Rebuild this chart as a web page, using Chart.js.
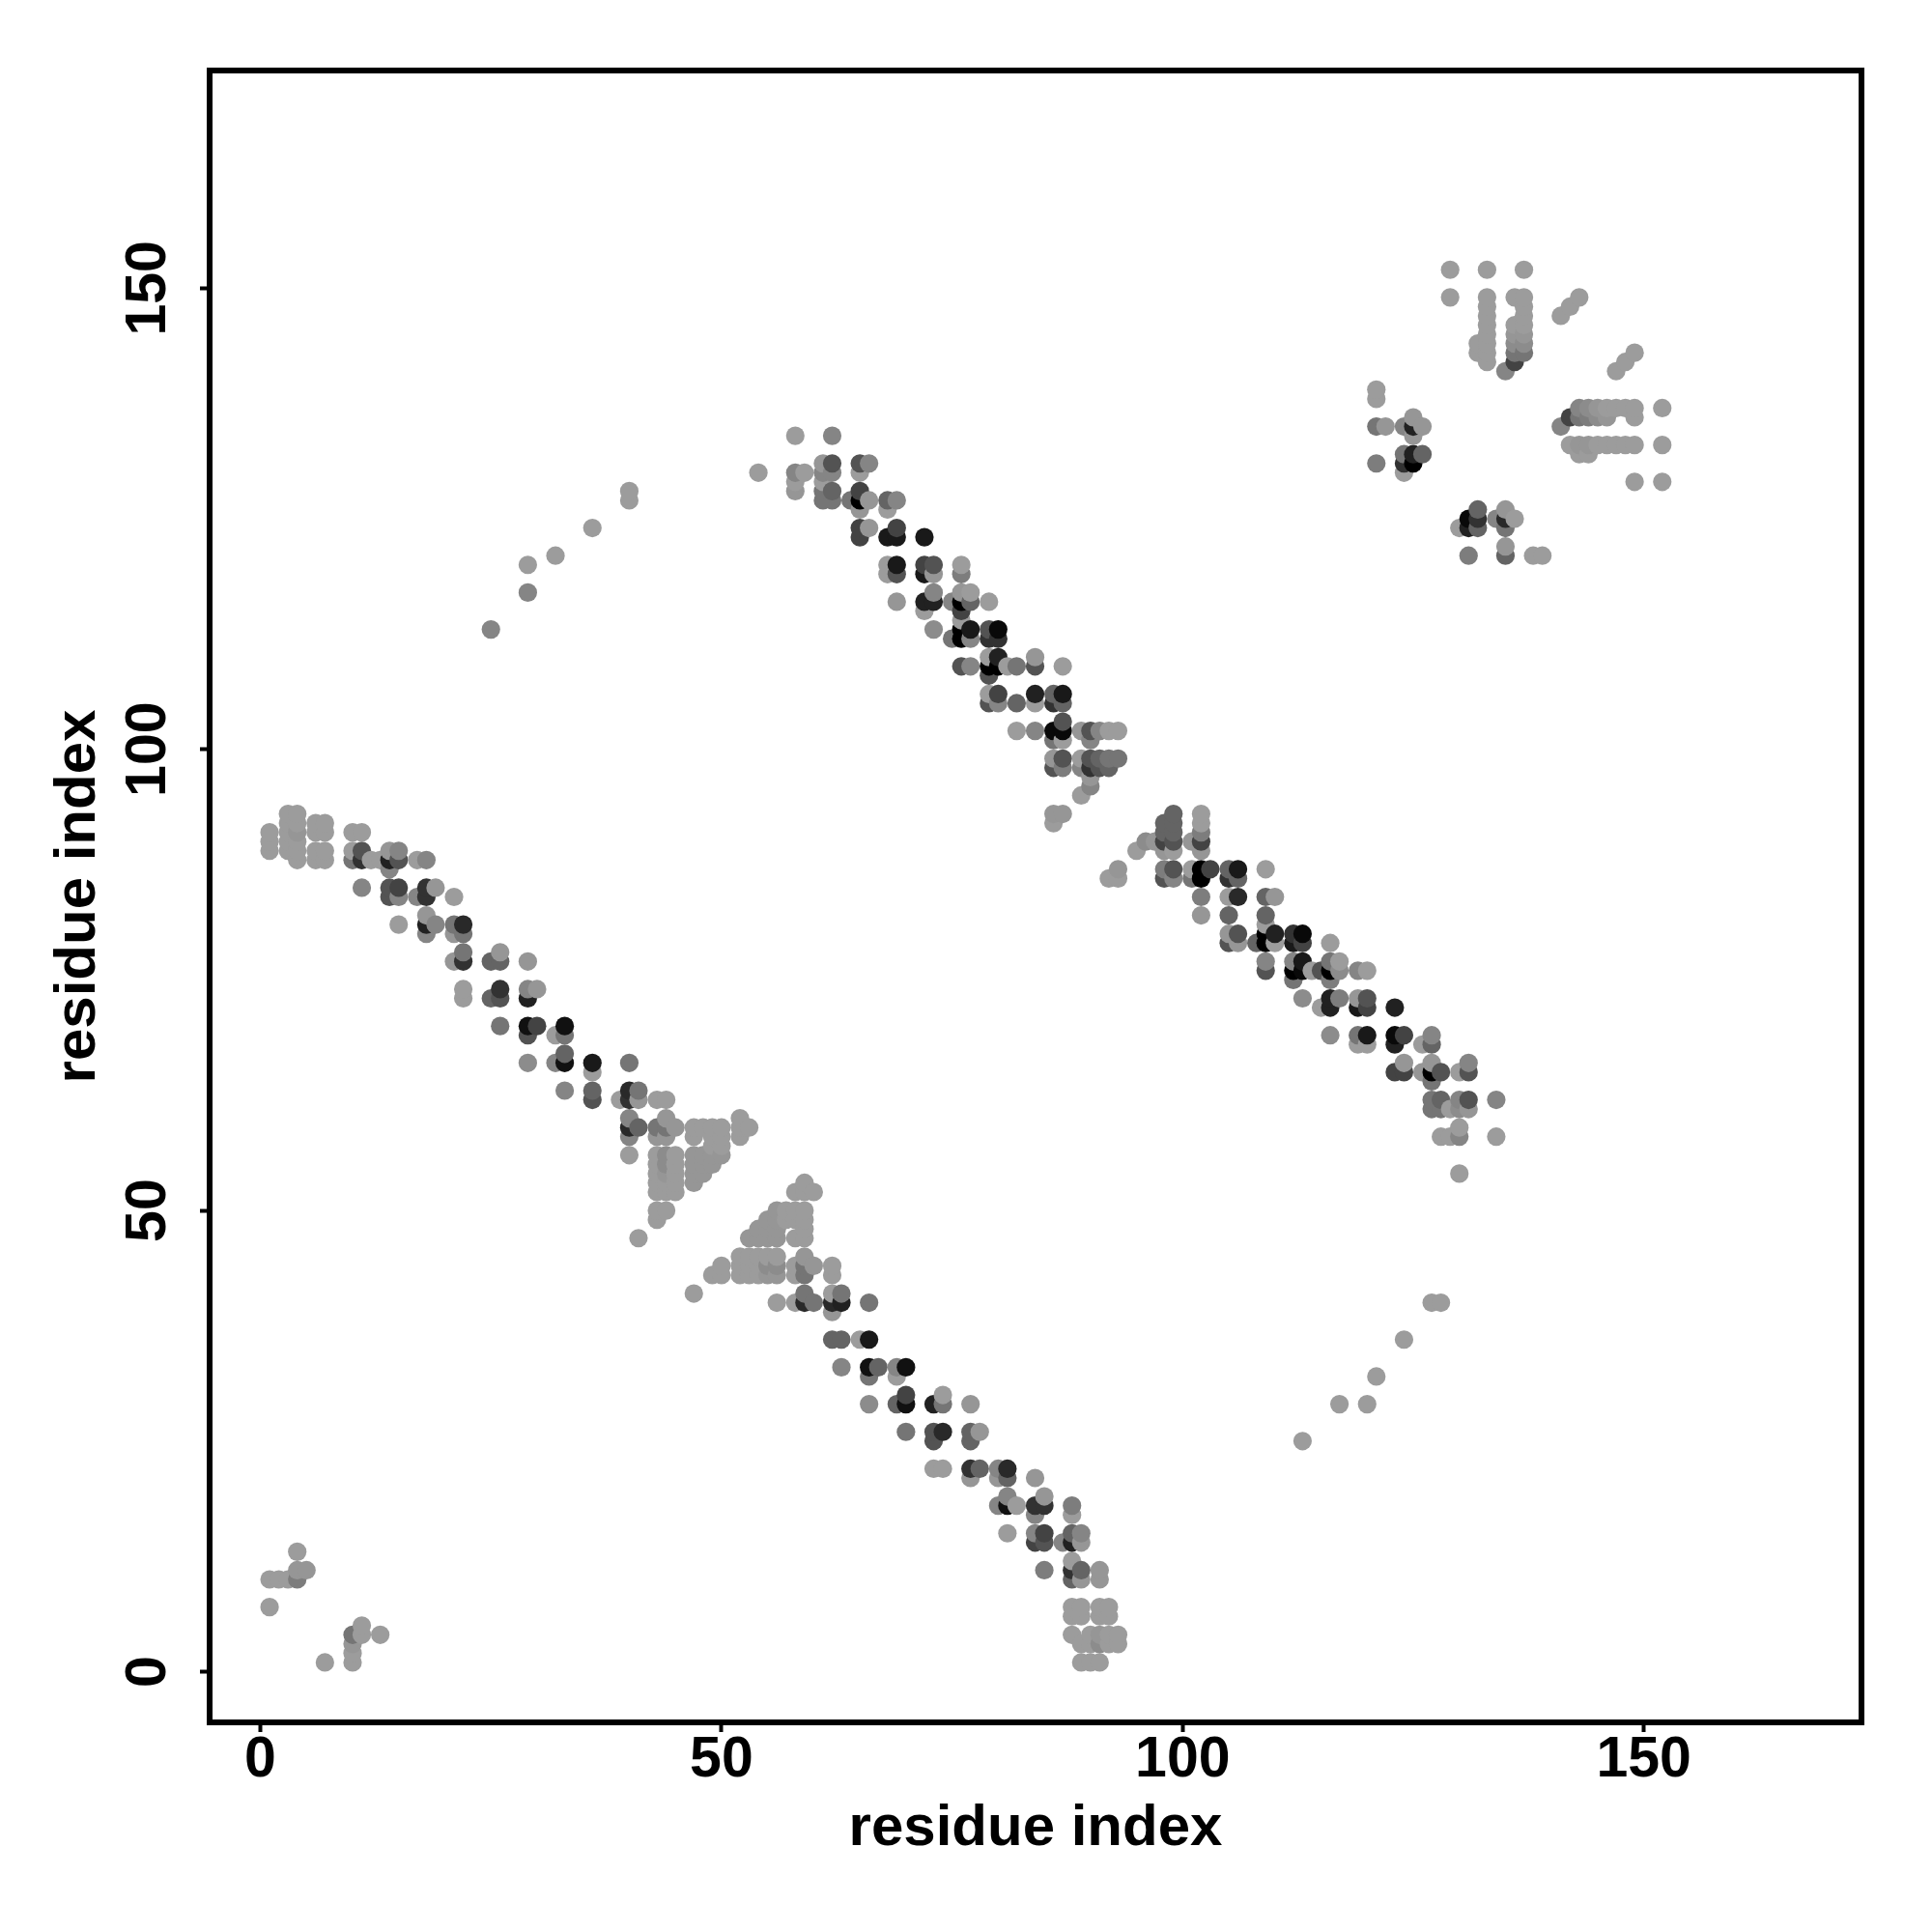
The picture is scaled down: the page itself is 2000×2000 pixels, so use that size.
<!DOCTYPE html>
<html>
<head>
<meta charset="utf-8">
<title>residue contacts</title>
<script src="https://cdn.jsdelivr.net/npm/chart.js@4"></script>
<style>
  html, body { margin: 0; padding: 0; background: #fff; }
  canvas { display: block; }
</style>
</head>
<body>
<canvas id="myChart" width="2000" height="2000"></canvas>
<script>
const axisTitle = 'residue index';
const xTickValues = [0, 50, 100, 150];
const yTickValues = [0, 50, 100, 150];

// one entry per row of the plot: the y residue, then the x residues on it and their contact score
const rowJ = [152, 149, 148, 147, 146, 145, 144, 143, 142, 141, 139, 138, 137, 136, 135, 134, 133, 132, 131, 130,
  129, 128, 127, 126, 125, 124, 123, 122, 121, 120, 119, 117, 116, 115, 114, 113, 112, 110, 109, 108,
  106, 105, 103, 102, 101, 99, 98, 97, 96, 95, 93, 92, 91, 90, 89, 88, 87, 86, 85, 84,
  82, 81, 80, 79, 78, 77, 76, 75, 74, 73, 72, 70, 69, 68, 67, 66, 65, 64, 63, 62,
  61, 60, 59, 58, 57, 56, 55, 54, 53, 52, 50, 49, 48, 47, 45, 44, 43, 41, 40, 39,
  36, 33, 32, 30, 29, 26, 25, 22, 21, 19, 18, 17, 15, 14, 13, 12, 11, 10, 7, 6, 5,
  4, 3, 2, 1];

const rowI = [
  [129, 133, 137],
  [129, 133, 136, 137, 143],
  [133, 137, 142],
  [133, 137, 141],
  [133, 136, 137],
  [133, 136, 137],
  [132, 133, 136, 137],
  [132, 133, 136, 137, 149],
  [133, 136, 148],
  [135, 147],
  [121],
  [121],
  [143, 144, 145, 146, 147, 148, 149, 152],
  [125, 142, 143, 144, 145, 146, 149],
  [121, 122, 124, 125, 126, 141],
  [58, 62, 125],
  [142, 143, 144, 145, 146, 147, 148, 149, 152],
  [124, 125, 126, 143, 144],
  [61, 62, 65, 66, 121, 124, 125],
  [54, 58, 59, 61, 62, 65, 124],
  [58, 61, 149, 152],
  [40, 58, 61, 62, 65],
  [40, 61, 62, 64, 65, 66, 68, 69],
  [65, 68, 132, 135],
  [131, 132, 134, 135, 136],
  [36, 65, 66, 69, 130, 131, 132, 135],
  [65, 68, 69, 72],
  [135],
  [32, 131, 135, 138, 139],
  [29, 68, 69, 72, 73, 76],
  [68, 69, 72, 73, 76],
  [29, 73, 76, 77],
  [69, 72, 73, 75, 76, 77, 79],
  [72, 76],
  [76],
  [25, 73, 76, 77, 79, 80],
  [75, 76, 77, 79, 80],
  [79, 80, 84],
  [76, 77, 79, 80, 81, 82, 84, 87],
  [79],
  [79, 80, 84, 86, 87],
  [79, 80, 82, 84, 86, 87],
  [87],
  [82, 84, 86, 87, 89, 90, 91, 92, 93],
  [86, 87, 90],
  [86, 87, 89, 90, 91, 92, 93],
  [86, 87, 89, 90, 91, 92],
  [90],
  [90],
  [89],
  [3, 4, 86, 87, 99, 102],
  [3, 4, 6, 7, 86, 98, 99, 102],
  [1, 3, 4, 6, 7, 10, 11, 98, 99, 102],
  [1, 3, 4, 96, 97, 98, 99, 101, 102],
  [1, 3, 4, 6, 7, 10, 11, 14, 15, 95, 98, 99, 102],
  [4, 6, 7, 10, 11, 12, 13, 14, 15, 17, 18],
  [14, 93, 98, 99, 101, 102, 103, 105, 106, 109],
  [92, 93, 98, 99, 101, 102, 105, 106],
  [11, 14, 15, 18, 19],
  [14, 15, 17, 18, 21, 102, 105, 106, 109, 110],
  [18, 102, 105, 109],
  [15, 18, 19, 21, 22, 109],
  [18, 21, 22, 105, 106, 109, 110, 112, 113],
  [105, 106, 108, 109, 110, 112, 113, 116],
  [22, 26],
  [21, 22, 25, 26, 29, 109, 112, 113, 116, 117],
  [109, 112, 113, 114, 115, 116, 117, 119, 120],
  [112, 116],
  [22, 26, 29, 30],
  [22, 25, 26, 29, 113, 116, 117, 119, 120],
  [115, 116, 119, 120, 123],
  [26, 29, 30, 33],
  [29, 32, 33, 116, 119, 120, 123, 124, 127],
  [119, 120, 123, 126, 127],
  [33],
  [29, 32, 33, 36, 40, 124, 127, 131],
  [36, 123, 124, 126, 127, 128, 130, 131],
  [127],
  [33, 36, 40, 41],
  [36, 39, 40, 41, 43, 44, 127, 128, 130, 131, 134],
  [127, 128, 129, 130, 131],
  [40, 44, 52],
  [40, 41, 43, 44, 45, 47, 48, 49, 50, 52, 53, 130],
  [40, 43, 44, 47, 49, 50, 52, 128, 129, 130, 134],
  [49, 50],
  [40, 43, 44, 45, 47, 48, 49, 50],
  [43, 44, 45, 47, 48, 49],
  [43, 44, 45, 47, 48, 130],
  [43, 44, 45, 47, 59],
  [43, 44, 45, 58, 59, 60],
  [43, 44, 56, 57, 58, 59],
  [43, 55, 56, 57, 58, 59],
  [54, 55, 56, 59],
  [41, 53, 54, 55, 56, 58, 59],
  [52, 53, 54, 55, 56, 59],
  [50, 52, 53, 54, 55, 56, 58, 59, 60, 62],
  [49, 50, 52, 53, 54, 55, 56, 58, 59, 62],
  [47, 59, 62, 63],
  [56, 58, 59, 60, 62, 63, 66, 127, 128],
  [62],
  [62, 63, 65, 66, 124],
  [63, 66, 67, 69, 70],
  [66, 69, 121],
  [70, 74],
  [66, 69, 70, 73, 74, 77, 117, 120],
  [70, 73, 74, 77, 78],
  [73, 77, 113],
  [73, 74, 77, 78, 80, 81],
  [77, 80, 81, 84],
  [81, 85],
  [80, 81, 82, 84, 85, 88],
  [84, 88],
  [81, 84, 85, 88, 89],
  [84, 85, 87, 88, 89],
  [4],
  [88],
  [4, 5, 85, 88, 89, 91],
  [1, 2, 3, 4, 88, 89, 91],
  [1, 88, 89, 91, 92],
  [88, 89, 91, 92],
  [11],
  [10, 11, 13, 88, 90, 91, 92, 93],
  [10, 89, 90, 91, 92, 93],
  [10],
  [7, 10, 89, 90, 91]
];

const rowScore = [
  [0, 0, 0],
  [0, 0, 0, 0, 0],
  [0, 0, 0],
  [0, 0, 0],
  [0, 0, 0],
  [0, 4, 4],
  [0, 0, 10, 10],
  [0, 0, 25, 25, 0],
  [0, 57, 0],
  [15, 0],
  [0],
  [0],
  [15, 10, 4, 0, 0, 0, 0, 0],
  [4, 57, 25, 20, 10, 4, 0],
  [25, 4, 15, 79, 4, 15],
  [0, 15, 4],
  [0, 4, 4, 0, 0, 0, 0, 0, 0],
  [25, 79, 36, 0, 0],
  [4, 47, 47, 15, 20, 68, 100],
  [0, 15, 0, 15, 15, 0, 0],
  [0, 0, 0, 0],
  [0, 4, 25, 36, 57],
  [0, 25, 25, 25, 100, 4, 36, 15],
  [4, 0, 36, 4],
  [94, 68, 15, 74, 0],
  [0, 57, 4, 57, 0, 79, 36, 25],
  [57, 84, 84, 84],
  [4],
  [0, 20, 36, 0, 0],
  [0, 0, 84, 57, 47, 0],
  [0, 47, 84, 4, 20],
  [15, 15, 4, 0],
  [4, 79, 79, 15, 100, 36, 0],
  [0, 57],
  [0],
  [15, 10, 100, 84, 47, 94],
  [25, 100, 15, 68, 68],
  [0, 79, 4],
  [47, 15, 100, 100, 0, 25, 47, 0],
  [47],
  [0, 57, 79, 36, 84],
  [47, 15, 36, 0, 68, 36],
  [47],
  [0, 15, 94, 94, 4, 47, 15, 0, 0],
  [25, 0, 15],
  [4, 47, 0, 47, 36, 25, 25],
  [47, 20, 15, 68, 47, 36],
  [4],
  [15],
  [0],
  [0, 0, 4, 4, 36, 0],
  [0, 0, 0, 0, 0, 36, 36, 0],
  [0, 0, 4, 0, 0, 0, 0, 36, 36, 20],
  [0, 0, 0, 10, 4, 57, 47, 4, 57],
  [0, 0, 0, 0, 0, 0, 47, 4, 15, 0, 4, 0, 4],
  [0, 0, 0, 25, 68, 0, 0, 79, 47, 0, 15],
  [15, 4, 20, 47, 0, 100, 57, 36, 84, 0],
  [0, 0, 47, 15, 25, 100, 68, 36],
  [15, 47, 57, 68, 4],
  [47, 15, 15, 68, 0, 20, 0, 74, 36, 4],
  [4, 4, 36, 36],
  [0, 79, 15, 25, 74, 0],
  [15, 4, 25, 4, 47, 100, 79, 68, 94],
  [47, 4, 36, 100, 0, 84, 57, 0],
  [25, 4],
  [4, 68, 36, 36, 4, 15, 15, 84, 25, 0],
  [47, 100, 94, 0, 47, 100, 10, 15, 0],
  [25, 20],
  [0, 68, 15, 4],
  [0, 36, 47, 79, 10, 79, 20, 4, 47],
  [0, 79, 84, 57, 79],
  [25, 89, 57, 89],
  [47, 0, 25, 10, 25, 84, 94, 57, 15],
  [0, 0, 79, 0, 36],
  [36],
  [10, 15, 89, 84, 25, 4, 4, 15],
  [0, 57, 57, 4, 100, 47, 0, 47],
  [25],
  [15, 36, 74, 25],
  [47, 0, 68, 4, 0, 0, 25, 36, 15, 47, 15],
  [25, 25, 0, 10, 4],
  [15, 4, 0],
  [74, 36, 25, 25, 4, 0, 0, 0, 0, 0, 0, 0],
  [15, 4, 4, 0, 0, 0, 0, 0, 0, 15, 0],
  [0, 0],
  [0, 0, 10, 0, 4, 4, 4, 4],
  [0, 10, 0, 4, 4, 4],
  [0, 4, 0, 4, 4, 0],
  [0, 0, 0, 4, 0],
  [0, 0, 0, 0, 0, 0],
  [0, 0, 4, 0, 0, 0],
  [0, 4, 4, 0, 0, 0],
  [4, 4, 4, 0],
  [0, 4, 4, 4, 4, 0, 0],
  [0, 0, 0, 0, 0, 4],
  [0, 0, 0, 0, 10, 10, 0, 25, 4, 0],
  [0, 0, 0, 0, 0, 4, 4, 0, 25, 0],
  [0, 25, 0, 25],
  [0, 0, 74, 25, 74, 79, 25, 0, 0],
  [4],
  [36, 36, 0, 84, 0],
  [15, 89, 36, 15, 89],
  [25, 0, 0],
  [57, 0],
  [10, 36, 89, 79, 25, 4, 0, 0],
  [25, 47, 74, 36, 4],
  [47, 36, 0],
  [0, 0, 68, 36, 15, 74],
  [4, 4, 36, 4],
  [15, 4],
  [15, 89, 0, 68, 68, 20],
  [15, 0],
  [0, 15, 57, 36, 15],
  [57, 47, 15, 79, 4],
  [0],
  [0],
  [4, 4, 20, 68, 36, 4],
  [0, 0, 0, 20, 36, 4, 4],
  [0, 0, 0, 0, 0],
  [0, 0, 0, 0],
  [0],
  [25, 0, 0, 0, 0, 4, 0, 0],
  [4, 0, 0, 10, 0, 0],
  [0],
  [0, 0, 0, 0, 0]
];

const fontFamily = '"Liberation Sans", Arial, sans-serif';

function buildPoints() {
  const points = [];
  rowJ.forEach((j, row) => {
    rowI[row].forEach((i, k) => {
      points.push({ x: i, y: j, score: rowScore[row][k] });
    });
  });
  // later columns and higher rows sit on top, as in the original plot
  return points.sort((a, b) => a.x - b.x || a.y - b.y);
}

function scoreToGrey(score) {
  const level = Math.round(156 * (1 - score / 100));
  return `rgb(${level}, ${level}, ${level})`;
}

const boxPlugin = {
  id: 'box',
  afterDraw(chart) {
    const { ctx, chartArea: { left, top, width, height } } = chart;
    ctx.save();
    ctx.strokeStyle = '#000';
    ctx.lineWidth = 6;
    ctx.strokeRect(left, top, width, height);
    ctx.restore();
  }
};

function axisOptions(tickValues, isY) {
  return {
    type: 'linear',
    min: -5.5,
    max: 173.6,
    afterBuildTicks(scale) {
      scale.ticks = tickValues.map((value) => ({ value }));
    },
    afterFit(scale) {
      if (isY) scale.width = 217; else scale.height = 217;
    },
    border: { display: false },
    grid: {
      drawOnChartArea: false,
      drawTicks: true,
      tickLength: 10,
      tickWidth: 4,
      tickColor: '#000'
    },
    ticks: isY
      ? {
          color: '#000',
          font: { family: fontFamily, size: 59, weight: 'bold' },
          minRotation: 90,
          maxRotation: 90,
          crossAlign: 'center',
          padding: 3
        }
      : {
          color: '#000',
          font: { family: fontFamily, size: 59, weight: 'bold' },
          maxRotation: 0,
          padding: -6
        },
    title: {
      display: true,
      text: axisTitle,
      color: '#000',
      font: { family: fontFamily, size: 60, weight: 'bold' },
      padding: isY ? { top: 45, bottom: 0 } : { top: 0, bottom: 71 }
    }
  };
}

new Chart(document.getElementById('myChart').getContext('2d'), {
  type: 'scatter',
  data: {
    datasets: [{
      label: 'contacts',
      data: buildPoints(),
      pointRadius: 9.6,
      pointBorderWidth: 0,
      pointBackgroundColor: (context) => scoreToGrey(context.raw ? context.raw.score : 0)
    }]
  },
  options: {
    responsive: false,
    animation: false,
    layout: { padding: { top: 73, right: 73, left: 0, bottom: 0 } },
    plugins: { legend: { display: false }, tooltip: { enabled: false } },
    scales: {
      x: axisOptions(xTickValues, false),
      y: axisOptions(yTickValues, true)
    }
  },
  plugins: [boxPlugin]
});
</script>
</body>
</html>
